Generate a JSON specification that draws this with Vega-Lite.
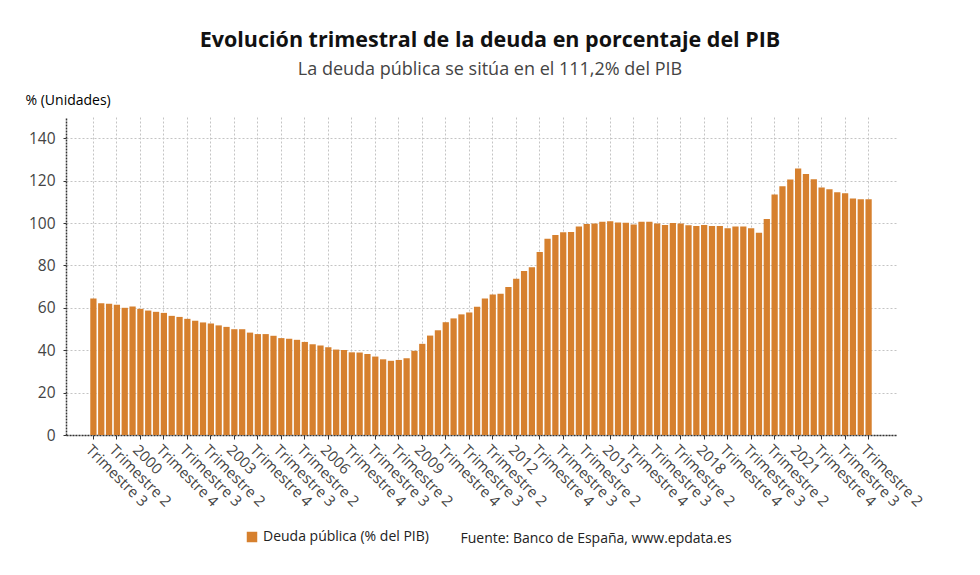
{
  "$schema": "https://vega.github.io/schema/vega-lite/v6.json",
  "width": 830,
  "height": 318,
  "autosize": {"type": "none"},
  "padding": {"left": 66, "top": 117, "right": 84, "bottom": 140},
  "background": "white",
  "title": {
    "text": "Evolución trimestral de la deuda en porcentaje del PIB",
    "subtitle": "La deuda pública se sitúa en el 111,2% del PIB",
    "anchor": "middle",
    "dx": 9,
    "offset": 14,
    "font": "Open Sans",
    "fontSize": 21.5,
    "fontWeight": "bold",
    "color": "#111111",
    "subtitleFont": "Open Sans",
    "subtitleFontSize": 18,
    "subtitleColor": "#444444",
    "subtitlePadding": 10
  },
  "data": {
    "values": [
      {"trimestre": "1998-T3", "deuda": 64.4},
      {"trimestre": "1998-T4", "deuda": 62.2},
      {"trimestre": "1999-T1", "deuda": 61.9},
      {"trimestre": "1999-T2", "deuda": 61.4},
      {"trimestre": "1999-T3", "deuda": 60.0},
      {"trimestre": "1999-T4", "deuda": 60.6},
      {"trimestre": "2000-T1", "deuda": 59.5},
      {"trimestre": "2000-T2", "deuda": 58.7},
      {"trimestre": "2000-T3", "deuda": 58.1},
      {"trimestre": "2000-T4", "deuda": 57.6},
      {"trimestre": "2001-T1", "deuda": 56.2},
      {"trimestre": "2001-T2", "deuda": 55.7},
      {"trimestre": "2001-T3", "deuda": 54.8},
      {"trimestre": "2001-T4", "deuda": 53.9},
      {"trimestre": "2002-T1", "deuda": 53.1},
      {"trimestre": "2002-T2", "deuda": 52.6},
      {"trimestre": "2002-T3", "deuda": 51.7},
      {"trimestre": "2002-T4", "deuda": 51.0},
      {"trimestre": "2003-T1", "deuda": 49.9},
      {"trimestre": "2003-T2", "deuda": 49.9},
      {"trimestre": "2003-T3", "deuda": 48.3},
      {"trimestre": "2003-T4", "deuda": 47.6},
      {"trimestre": "2004-T1", "deuda": 47.6},
      {"trimestre": "2004-T2", "deuda": 46.8},
      {"trimestre": "2004-T3", "deuda": 45.7},
      {"trimestre": "2004-T4", "deuda": 45.4},
      {"trimestre": "2005-T1", "deuda": 44.9},
      {"trimestre": "2005-T2", "deuda": 43.9},
      {"trimestre": "2005-T3", "deuda": 42.8},
      {"trimestre": "2005-T4", "deuda": 42.2},
      {"trimestre": "2006-T1", "deuda": 41.4},
      {"trimestre": "2006-T2", "deuda": 40.3},
      {"trimestre": "2006-T3", "deuda": 40.1},
      {"trimestre": "2006-T4", "deuda": 39.0},
      {"trimestre": "2007-T1", "deuda": 38.9},
      {"trimestre": "2007-T2", "deuda": 38.2},
      {"trimestre": "2007-T3", "deuda": 37.0},
      {"trimestre": "2007-T4", "deuda": 35.7},
      {"trimestre": "2008-T1", "deuda": 35.0},
      {"trimestre": "2008-T2", "deuda": 35.4},
      {"trimestre": "2008-T3", "deuda": 36.2},
      {"trimestre": "2008-T4", "deuda": 39.7},
      {"trimestre": "2009-T1", "deuda": 43.0},
      {"trimestre": "2009-T2", "deuda": 46.9},
      {"trimestre": "2009-T3", "deuda": 49.4},
      {"trimestre": "2009-T4", "deuda": 53.2},
      {"trimestre": "2010-T1", "deuda": 55.0},
      {"trimestre": "2010-T2", "deuda": 56.9},
      {"trimestre": "2010-T3", "deuda": 57.8},
      {"trimestre": "2010-T4", "deuda": 60.5},
      {"trimestre": "2011-T1", "deuda": 64.4},
      {"trimestre": "2011-T2", "deuda": 66.3},
      {"trimestre": "2011-T3", "deuda": 66.6},
      {"trimestre": "2011-T4", "deuda": 69.8},
      {"trimestre": "2012-T1", "deuda": 73.7},
      {"trimestre": "2012-T2", "deuda": 77.3},
      {"trimestre": "2012-T3", "deuda": 79.1},
      {"trimestre": "2012-T4", "deuda": 86.3},
      {"trimestre": "2013-T1", "deuda": 92.6},
      {"trimestre": "2013-T2", "deuda": 94.3},
      {"trimestre": "2013-T3", "deuda": 95.6},
      {"trimestre": "2013-T4", "deuda": 95.7},
      {"trimestre": "2014-T1", "deuda": 98.4},
      {"trimestre": "2014-T2", "deuda": 99.5},
      {"trimestre": "2014-T3", "deuda": 99.8},
      {"trimestre": "2014-T4", "deuda": 100.6},
      {"trimestre": "2015-T1", "deuda": 100.8},
      {"trimestre": "2015-T2", "deuda": 100.2},
      {"trimestre": "2015-T3", "deuda": 100.1},
      {"trimestre": "2015-T4", "deuda": 99.3},
      {"trimestre": "2016-T1", "deuda": 100.6},
      {"trimestre": "2016-T2", "deuda": 100.6},
      {"trimestre": "2016-T3", "deuda": 99.8},
      {"trimestre": "2016-T4", "deuda": 99.1},
      {"trimestre": "2017-T1", "deuda": 100.0},
      {"trimestre": "2017-T2", "deuda": 99.8},
      {"trimestre": "2017-T3", "deuda": 98.9},
      {"trimestre": "2017-T4", "deuda": 98.6},
      {"trimestre": "2018-T1", "deuda": 99.1},
      {"trimestre": "2018-T2", "deuda": 98.6},
      {"trimestre": "2018-T3", "deuda": 98.6},
      {"trimestre": "2018-T4", "deuda": 97.5},
      {"trimestre": "2019-T1", "deuda": 98.4},
      {"trimestre": "2019-T2", "deuda": 98.4},
      {"trimestre": "2019-T3", "deuda": 97.5},
      {"trimestre": "2019-T4", "deuda": 95.4},
      {"trimestre": "2020-T1", "deuda": 101.9},
      {"trimestre": "2020-T2", "deuda": 113.4},
      {"trimestre": "2020-T3", "deuda": 117.3},
      {"trimestre": "2020-T4", "deuda": 120.5},
      {"trimestre": "2021-T1", "deuda": 125.7},
      {"trimestre": "2021-T2", "deuda": 123.1},
      {"trimestre": "2021-T3", "deuda": 120.6},
      {"trimestre": "2021-T4", "deuda": 116.7},
      {"trimestre": "2022-T1", "deuda": 115.9},
      {"trimestre": "2022-T2", "deuda": 114.5},
      {"trimestre": "2022-T3", "deuda": 114.0},
      {"trimestre": "2022-T4", "deuda": 111.5},
      {"trimestre": "2023-T1", "deuda": 111.2},
      {"trimestre": "2023-T2", "deuda": 111.2}
    ]
  },
  "mark": {"type": "bar", "color": "#d6802e"},
  "encoding": {
    "x": {
      "field": "trimestre",
      "type": "ordinal",
      "scale": {
        "domain": [
          "1997-T4",
          "1998-T1", "1998-T2", "1998-T3", "1998-T4",
          "1999-T1", "1999-T2", "1999-T3", "1999-T4",
          "2000-T1", "2000-T2", "2000-T3", "2000-T4",
          "2001-T1", "2001-T2", "2001-T3", "2001-T4",
          "2002-T1", "2002-T2", "2002-T3", "2002-T4",
          "2003-T1", "2003-T2", "2003-T3", "2003-T4",
          "2004-T1", "2004-T2", "2004-T3", "2004-T4",
          "2005-T1", "2005-T2", "2005-T3", "2005-T4",
          "2006-T1", "2006-T2", "2006-T3", "2006-T4",
          "2007-T1", "2007-T2", "2007-T3", "2007-T4",
          "2008-T1", "2008-T2", "2008-T3", "2008-T4",
          "2009-T1", "2009-T2", "2009-T3", "2009-T4",
          "2010-T1", "2010-T2", "2010-T3", "2010-T4",
          "2011-T1", "2011-T2", "2011-T3", "2011-T4",
          "2012-T1", "2012-T2", "2012-T3", "2012-T4",
          "2013-T1", "2013-T2", "2013-T3", "2013-T4",
          "2014-T1", "2014-T2", "2014-T3", "2014-T4",
          "2015-T1", "2015-T2", "2015-T3", "2015-T4",
          "2016-T1", "2016-T2", "2016-T3", "2016-T4",
          "2017-T1", "2017-T2", "2017-T3", "2017-T4",
          "2018-T1", "2018-T2", "2018-T3", "2018-T4",
          "2019-T1", "2019-T2", "2019-T3", "2019-T4",
          "2020-T1", "2020-T2", "2020-T3", "2020-T4",
          "2021-T1", "2021-T2", "2021-T3", "2021-T4",
          "2022-T1", "2022-T2", "2022-T3", "2022-T4",
          "2023-T1", "2023-T2", "2023-T3", "2023-T4",
          "2024-T1"
        ],
        "paddingInner": 0.2,
        "paddingOuter": 0.1
      },
      "axis": {
        "values": ["1998-T3", "1999-T2", "2000-T1", "2000-T4", "2001-T3", "2002-T2", "2003-T1", "2003-T4", "2004-T3", "2005-T2", "2006-T1", "2006-T4", "2007-T3", "2008-T2", "2009-T1", "2009-T4", "2010-T3", "2011-T2", "2012-T1", "2012-T4", "2013-T3", "2014-T2", "2015-T1", "2015-T4", "2016-T3", "2017-T2", "2018-T1", "2018-T4", "2019-T3", "2020-T2", "2021-T1", "2021-T4", "2022-T3", "2023-T2"],
        "labelExpr": "substring(datum.value, 6) == '1' ? substring(datum.value, 0, 4) : 'Trimestre ' + substring(datum.value, 6)",
        "labelAngle": 45,
        "labelAlign": "left",
        "labelBaseline": "top",
        "labelFont": "Open Sans",
        "labelFontSize": 15,
        "labelColor": "#444444",
        "labelPadding": 3,
        "bandPosition": 0.5,
        "grid": true,
        "gridColor": "#c4c4c4",
        "gridDash": [2, 2],
        "tickSize": 4,
        "tickColor": "#333333",
        "domainColor": "#333333",
        "domainDash": [2, 1],
        "domainWidth": 1.5,
        "title": "Fuente: Banco de España, www.epdata.es",
        "titleX": 394,
        "titleY": 103,
        "titleAlign": "left",
        "titleBaseline": "middle",
        "titleFont": "Open Sans",
        "titleFontSize": 14,
        "titleFontWeight": "normal",
        "titleColor": "#222222"
      }
    },
    "y": {
      "field": "deuda",
      "type": "quantitative",
      "scale": {"domain": [0, 150], "nice": false},
      "axis": {
        "values": [0, 20, 40, 60, 80, 100, 120, 140],
        "labelFont": "Open Sans",
        "labelFontSize": 15.5,
        "labelColor": "#444444",
        "labelPadding": 8,
        "grid": true,
        "gridColor": "#c4c4c4",
        "gridDash": [2, 2],
        "tickSize": 3,
        "tickColor": "#333333",
        "domainColor": "#333333",
        "domainDash": [2, 1],
        "domainWidth": 1.5,
        "title": "% (Unidades)",
        "titleAngle": 0,
        "titleX": -41,
        "titleY": -17,
        "titleAlign": "left",
        "titleBaseline": "middle",
        "titleFont": "Open Sans",
        "titleFontSize": 14,
        "titleFontWeight": "normal",
        "titleColor": "#000000"
      }
    },
    "color": {
      "datum": "Deuda pública (% del PIB)",
      "type": "nominal",
      "scale": {"range": ["#d6802e"]},
      "legend": {
        "title": null,
        "orient": "none",
        "legendX": 179,
        "legendY": 413,
        "symbolType": "square",
        "symbolSize": 110,
        "symbolStrokeWidth": 0,
        "labelFont": "Open Sans",
        "labelFontSize": 14,
        "labelLimit": 400,
        "labelColor": "#222222"
      }
    }
  },
  "config": {
    "view": {"stroke": null}
  }
}
